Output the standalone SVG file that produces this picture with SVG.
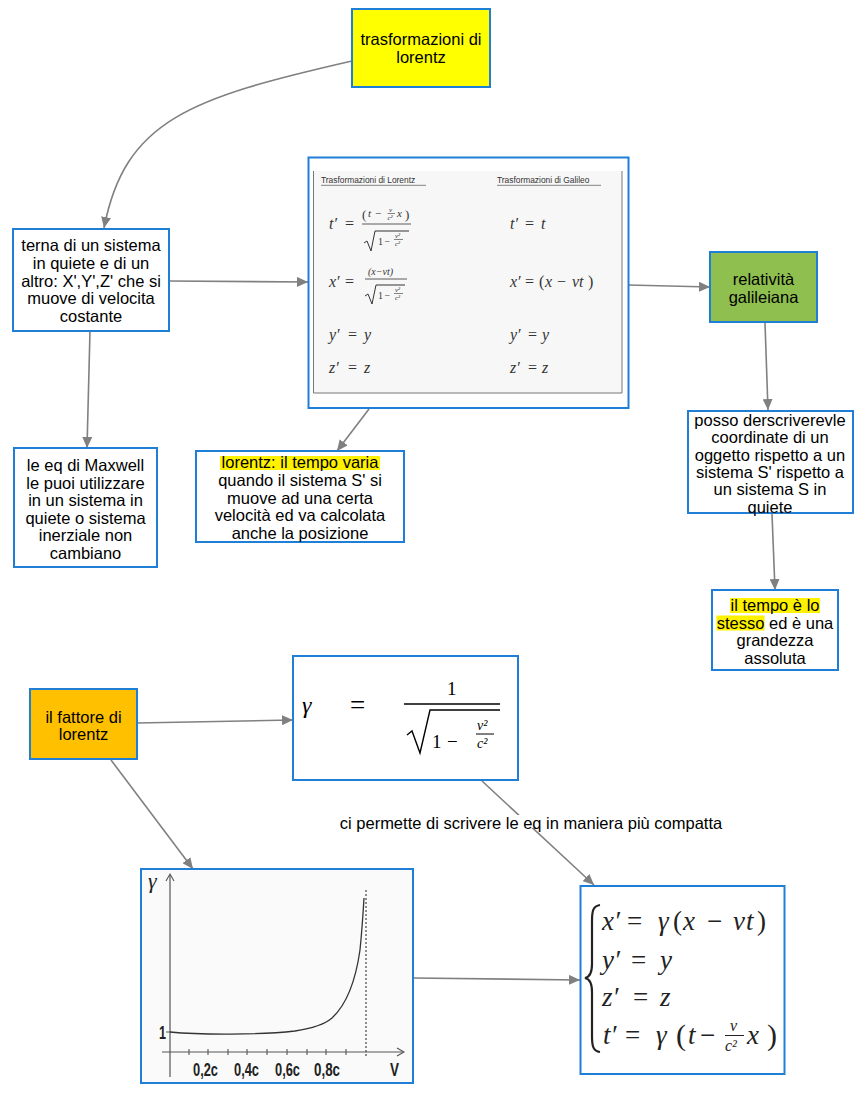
<svg xmlns="http://www.w3.org/2000/svg" width="868" height="1115" viewBox="0 0 868 1115">
<style>
.box{stroke:#1f7fd6;stroke-width:2}
.t{font-family:"Liberation Sans",Arial,sans-serif;font-size:16.5px;text-anchor:middle;fill:#000}
.c{fill:none;stroke:#808080;stroke-width:1.6}
.mi{font-family:"Liberation Serif","Times New Roman",serif;font-style:italic;fill:#333}
.mr{font-family:"Liberation Serif","Times New Roman",serif;fill:#333}
.hd{font-family:"Liberation Sans",Arial,sans-serif;font-size:8.4px;fill:#333}
.k{fill:none;stroke:#333;stroke-width:1}
.gl{font-family:"Liberation Sans",Arial,sans-serif;font-weight:bold;font-size:19px;fill:#222}
.hl{fill:#fff200}
.s{fill:#222}
</style>
<defs>
<marker id="ah" markerUnits="userSpaceOnUse" markerWidth="12" markerHeight="10" refX="11" refY="5" orient="auto">
<path d="M0,0 L11,5 L0,10 z" fill="#808080"/>
</marker>
</defs>
<rect width="868" height="1115" fill="#fff"/>

<g id="connectors">
<path class="c" d="M352,61 C190,98 125,120 104,228" marker-end="url(#ah)"/>
<path class="c" d="M169,281 L308,282" marker-end="url(#ah)"/>
<path class="c" d="M90,331 L87,448" marker-end="url(#ah)"/>
<path class="c" d="M369,409 L337,451" marker-end="url(#ah)"/>
<path class="c" d="M628,285 L710,287" marker-end="url(#ah)"/>
<path class="c" d="M765,323 L768,410" marker-end="url(#ah)"/>
<path class="c" d="M772,514 L775,590" marker-end="url(#ah)"/>
<path class="c" d="M137,723 L293,720" marker-end="url(#ah)"/>
<path class="c" d="M111,760 L193,869" marker-end="url(#ah)"/>
<path class="c" d="M482,781 L594,885" marker-end="url(#ah)"/>
<path class="c" d="M413,978 L580,980" marker-end="url(#ah)"/>
<rect x="337" y="815" width="388" height="13" fill="#fff"/>
<text x="531" y="829" style="font-family:'Liberation Sans',Arial,sans-serif;font-size:16.5px;text-anchor:middle;fill:#000">ci permette di scrivere le eq in maniera più compatta</text>
</g>

<g id="n-trasformazioni">
<rect class="box" x="352" y="9" width="138" height="78" fill="#ffff00"/>
<text class="t" x="421" y="45">trasformazioni di</text>
<text class="t" x="421" y="63">lorentz</text>
</g>

<g id="n-terna">
<rect class="box" x="13" y="229" width="156" height="102" fill="#fff"/>
<text class="t" x="91" y="251">terna di un sistema</text>
<text class="t" x="91" y="269">in quiete e di un</text>
<text class="t" x="91" y="287">altro: X',Y',Z' che si</text>
<text class="t" x="91" y="304">muove di velocita</text>
<text class="t" x="91" y="322">costante</text>
</g>

<g id="n-tabella">
<rect class="box" x="308.5" y="157.5" width="320" height="250.5" fill="#fff"/>
<rect x="313.5" y="171" width="308.5" height="222" fill="#f7f7f7"/>
<path d="M313.5,171 L313.5,393 L622,393 L622,171" fill="none" stroke="#777" stroke-width="1"/>
<text class="hd" x="321" y="183">Trasformazioni di Lorentz</text>
<line x1="321" y1="185.3" x2="426" y2="185.3" stroke="#333" stroke-width="0.6"/>
<text class="hd" x="497" y="183">Trasformazioni di Galileo</text>
<line x1="497" y1="185.3" x2="601" y2="185.3" stroke="#333" stroke-width="0.6"/>
<text class="mi" x="329" y="229" font-size="16">t′</text>
<text class="mr" x="345" y="229" font-size="16">=</text>
<text class="mr" x="362" y="219" font-size="13">(</text>
<text class="mi" x="368" y="217" font-size="11">t</text>
<text class="mr" x="375" y="217" font-size="11">−</text>
<text class="mi" x="389" y="211.5" font-size="7">v</text>
<line x1="387.5" y1="213.5" x2="395" y2="213.5" stroke="#333" stroke-width="0.6"/>
<text class="mi" x="387.5" y="220" font-size="7">c²</text>
<text class="mi" x="397" y="217" font-size="11">x</text>
<text class="mr" x="405" y="219" font-size="13">)</text>
<line x1="362" y1="224" x2="411" y2="224" stroke="#333" stroke-width="0.8"/>
<path class="k" d="M364,243 L367,241 L371,251 L375,231 L409,231"/>
<text class="mr" x="378" y="245" font-size="10">1</text>
<text class="mr" x="384.5" y="245" font-size="10">−</text>
<text class="mi" x="395" y="237.5" font-size="7">v²</text>
<line x1="394" y1="239.5" x2="403" y2="239.5" stroke="#333" stroke-width="0.6"/>
<text class="mi" x="395" y="246" font-size="7">c²</text>
<text class="mi" x="329" y="287" font-size="16">x′</text>
<text class="mr" x="345" y="287" font-size="16">=</text>
<text class="mi" x="368" y="275" font-size="10">(x−vt)</text>
<line x1="365" y1="279" x2="407" y2="279" stroke="#333" stroke-width="0.8"/>
<path class="k" d="M365,296 L368,294 L372,304 L376,285 L405,285"/>
<text class="mr" x="378" y="299" font-size="10">1</text>
<text class="mr" x="384.5" y="299" font-size="10">−</text>
<text class="mi" x="395" y="291.5" font-size="7">v²</text>
<line x1="394" y1="293.5" x2="403" y2="293.5" stroke="#333" stroke-width="0.6"/>
<text class="mi" x="395" y="300" font-size="7">c²</text>
<text class="mi" x="329" y="340" font-size="16">y′</text>
<text class="mr" x="348" y="340" font-size="16">=</text>
<text class="mi" x="364" y="340" font-size="16">y</text>
<text class="mi" x="329" y="373" font-size="16">z′</text>
<text class="mr" x="348" y="373" font-size="16">=</text>
<text class="mi" x="364" y="373" font-size="16">z</text>
<text class="mi" x="510" y="229" font-size="16">t′</text>
<text class="mr" x="525" y="229" font-size="16">=</text>
<text class="mi" x="541" y="229" font-size="16">t</text>
<text class="mi" x="510" y="287" font-size="16">x′</text>
<text class="mr" x="525" y="287" font-size="16">=</text>
<text class="mr" x="539" y="287" font-size="16">(</text>
<text class="mi" x="545" y="287" font-size="16">x</text>
<text class="mr" x="557" y="287" font-size="16">−</text>
<text class="mi" x="572" y="287" font-size="16">vt</text>
<text class="mr" x="588" y="287" font-size="16">)</text>
<text class="mi" x="510" y="340" font-size="16">y′</text>
<text class="mr" x="528" y="340" font-size="16">=</text>
<text class="mi" x="542" y="340" font-size="16">y</text>
<text class="mi" x="510" y="373" font-size="16">z′</text>
<text class="mr" x="528" y="373" font-size="16">=</text>
<text class="mi" x="542" y="373" font-size="16">z</text>
</g>

<g id="n-galileiana">
<rect class="box" x="710" y="252" width="107" height="70" fill="#8fbf4e"/>
<text class="t" x="763.5" y="285">relatività</text>
<text class="t" x="763.5" y="303">galileiana</text>
</g>

<g id="n-posso">
<rect class="box" x="688" y="411" width="165" height="102" fill="#fff"/>
<text class="t" x="770" y="426">posso derscriverevle</text>
<text class="t" x="770" y="443.3">coordinate di un</text>
<text class="t" x="770" y="460.6">oggetto rispetto a un</text>
<text class="t" x="770" y="477.9">sistema S' rispetto a</text>
<text class="t" x="770" y="495.2">un sistema S in</text>
<text class="t" x="770" y="512.5">quiete</text>
</g>

<g id="n-tempo-stesso">
<rect class="box" x="712" y="590" width="126" height="80" fill="#fff"/>
<rect class="hl" x="730" y="598" width="90" height="15"/>
<rect class="hl" x="716.5" y="615.5" width="48" height="15"/>
<text class="t" x="775" y="611">il tempo è lo</text>
<text class="t" x="775" y="628.5">stesso ed è una</text>
<text class="t" x="775" y="646">grandezza</text>
<text class="t" x="775" y="663.5">assoluta</text>
</g>

<g id="n-maxwell">
<rect class="box" x="14" y="448" width="143" height="119" fill="#fff"/>
<text class="t" x="85.5" y="471">le eq di Maxwell</text>
<text class="t" x="85.5" y="488.5">le puoi utilizzare</text>
<text class="t" x="85.5" y="506">in un sistema in</text>
<text class="t" x="85.5" y="523.5">quiete o sistema</text>
<text class="t" x="85.5" y="541">inerziale non</text>
<text class="t" x="85.5" y="558.5">cambiano</text>
</g>

<g id="n-tempo-varia">
<rect class="box" x="196" y="451" width="208" height="91" fill="#fff"/>
<rect class="hl" x="220" y="456" width="160" height="14"/>
<text class="t" x="300" y="468">lorentz: il tempo varia</text>
<text class="t" x="300" y="486">quando il sistema S' si</text>
<text class="t" x="300" y="503.5">muove ad una certa</text>
<text class="t" x="300" y="521">velocità ed va calcolata</text>
<text class="t" x="300" y="538.5">anche la posizione</text>
</g>

<g id="n-fattore">
<rect class="box" x="30" y="689" width="107" height="70" fill="#ffc000"/>
<text class="t" x="83.5" y="723">il fattore di</text>
<text class="t" x="83.5" y="740">lorentz</text>
</g>

<g id="n-gamma">
<rect class="box" x="293" y="656" width="225" height="124" fill="#fff"/>
<text class="mi" x="302" y="713" font-size="24" style="fill:#000">γ</text>
<text class="mr" x="350" y="714" font-size="27" style="fill:#000">=</text>
<text class="mr" x="447" y="695" font-size="19" style="fill:#000">1</text>
<line x1="404" y1="704" x2="500" y2="704" stroke="#000" stroke-width="1.3"/>
<path d="M407,735 L412,731 L420,753 L430,710 L500,710" fill="none" stroke="#000" stroke-width="1.4"/>
<text class="mr" x="432" y="748" font-size="19" style="fill:#000">1</text>
<text class="mr" x="447" y="748" font-size="19" style="fill:#000">−</text>
<text class="mi" x="477" y="730" font-size="14" style="fill:#000">v²</text>
<line x1="476" y1="734" x2="494" y2="734" stroke="#000" stroke-width="1"/>
<text class="mi" x="477" y="748" font-size="14" style="fill:#000">c²</text>
</g>

<g id="n-grafico">
<rect class="box" x="141" y="869" width="272" height="214" fill="#fafafa"/>
<line x1="170" y1="875" x2="170" y2="1077" stroke="#555" stroke-width="1.2"/>
<path d="M166,881 L170,874 L174,881" fill="none" stroke="#555" stroke-width="1.1"/>
<line x1="162" y1="1052" x2="403" y2="1052" stroke="#555" stroke-width="1.2"/>
<path d="M397,1048 L404,1052 L397,1056" fill="none" stroke="#555" stroke-width="1.1"/>
<path d="M189,1049v6M208,1049v6M228,1049v6M247,1049v6M267,1049v6M287,1049v6M307,1049v6M326,1049v6M346,1049v6M166,1032h5" stroke="#555" stroke-width="1.1" fill="none"/>
<line x1="366" y1="890" x2="366" y2="1056" stroke="#444" stroke-width="1.2" stroke-dasharray="2,2"/>
<path d="M170,1032 C200,1035 260,1035 295,1031 C315,1028 325,1024 332,1018 C345,1006 355,985 360,950 C362,930 363,915 364,898" fill="none" stroke="#333" stroke-width="1.3"/>
<text class="mi" x="148" y="888" font-size="22" style="fill:#222">γ</text>
<text class="gl" x="159" y="1039" textLength="7" lengthAdjust="spacingAndGlyphs">1</text>
<text class="gl" x="193" y="1076" textLength="25" lengthAdjust="spacingAndGlyphs">0,2c</text>
<text class="gl" x="234" y="1076" textLength="25" lengthAdjust="spacingAndGlyphs">0,4c</text>
<text class="gl" x="275" y="1076" textLength="25" lengthAdjust="spacingAndGlyphs">0,6c</text>
<text class="gl" x="314" y="1076" textLength="26" lengthAdjust="spacingAndGlyphs">0,8c</text>
<text class="gl" x="390" y="1076" textLength="9" lengthAdjust="spacingAndGlyphs">V</text>
</g>

<g id="n-sistema">
<rect class="box" x="580.5" y="886" width="204" height="188" fill="#fff"/>
<path d="M600,905 C593,906 592,911 592,921 L592,964 C592,973 590,977 585,978 C590,979 592,983 592,992 L592,1036 C592,1046 593,1051 600,1052" fill="none" stroke="#222" stroke-width="2.2"/>
<g font-size="27">
<text class="mi s" x="602" y="930">x′</text>
<text class="mr s" x="627" y="930">=</text>
<text class="mi s" x="658" y="930">γ</text>
<text class="mr s" x="673" y="930">(</text>
<text class="mi s" x="683" y="930">x</text>
<text class="mr s" x="707" y="930">−</text>
<text class="mi s" x="733" y="930">v</text>
<text class="mi s" x="746" y="930">t</text>
<text class="mr s" x="757" y="930">)</text>
<text class="mi s" x="602" y="969">y′</text>
<text class="mr s" x="631" y="969">=</text>
<text class="mi s" x="660" y="969">y</text>
<text class="mi s" x="602" y="1006">z′</text>
<text class="mr s" x="633" y="1006">=</text>
<text class="mi s" x="660" y="1006">z</text>
<text class="mi s" x="603" y="1044">t′</text>
<text class="mr s" x="625" y="1044">=</text>
<text class="mi s" x="656" y="1044">γ</text>
<text class="mr s" x="676" y="1045" font-size="30">(</text>
<text class="mi s" x="688" y="1044">t</text>
<text class="mr s" x="700" y="1044">−</text>
<text class="mi s" x="730" y="1031" font-size="16">v</text>
<text class="mi s" x="725" y="1051" font-size="16">c²</text>
<text class="mi s" x="747" y="1044">x</text>
<text class="mr s" x="767" y="1045" font-size="30">)</text>
</g>
<line x1="725" y1="1035.5" x2="744" y2="1035.5" stroke="#222" stroke-width="1"/>
</g>
</svg>
